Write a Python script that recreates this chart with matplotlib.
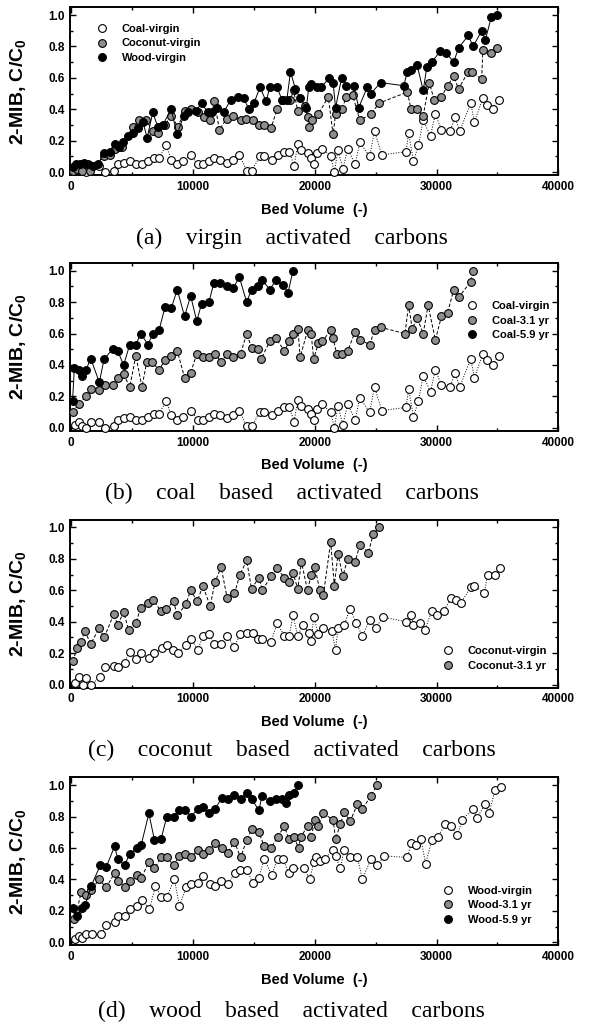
import matplotlib
matplotlib.use('Agg')
import matplotlib.pyplot as plt
from matplotlib.lines import Line2D
from matplotlib.ticker import MultipleLocator

plt.rcParams['font.family'] = ['Liberation Sans', 'DejaVu Sans']
plt.rcParams['font.weight'] = 'bold'
plt.rcParams['mathtext.fontset'] = 'custom'
plt.rcParams['mathtext.rm'] = 'Liberation Sans:bold'
plt.rcParams['mathtext.bf'] = 'Liberation Sans:bold'

# ---------------- data (bed volume, C/C0) ----------------
coal_virgin_x = [270, 600, 870, 1170, 1640, 2300, 2800, 3500, 3800, 4300,
                 4800, 5300, 5800, 6300, 6800, 7200, 7800, 8200, 8700, 9200,
                 9800, 10400, 10800, 11300, 11700, 12200, 12800, 13300, 13800, 14400,
                 14800, 15500, 15800, 16500, 17000, 17500, 17900, 18300, 18600, 18900,
                 19400, 19700, 19900, 20200, 20600, 21300, 21600, 21900, 22300, 22700,
                 23300, 23700, 24500, 24900, 25500, 27500, 27700, 28100, 28500, 28900,
                 29500, 29900, 30400, 31100, 31500, 31900, 32800, 33100, 33800, 34100,
                 34600, 35100]
coal_virgin_y = [0.02, 0.04, 0.01, 0.00, 0.04, 0.04, 0.00, 0.01, 0.05, 0.06,
                 0.07, 0.05, 0.05, 0.07, 0.09, 0.09, 0.17, 0.08, 0.05, 0.07,
                 0.11, 0.05, 0.05, 0.07, 0.09, 0.08, 0.06, 0.08, 0.11, 0.01,
                 0.01, 0.10, 0.10, 0.08, 0.11, 0.13, 0.13, 0.04, 0.18, 0.14,
                 0.12, 0.09, 0.05, 0.12, 0.15, 0.10, 0.00, 0.14, 0.02, 0.15,
                 0.05, 0.19, 0.10, 0.26, 0.11, 0.13, 0.25, 0.07, 0.17, 0.33,
                 0.23, 0.37, 0.27, 0.26, 0.35, 0.26, 0.44, 0.32, 0.47, 0.43,
                 0.40, 0.46]

# panel (a) coconut-virgin and wood-virgin
coco_virgin_a_x = [150, 500, 900, 1500, 2700, 3200, 3600, 4200, 5050, 5600,
                   6150, 6700, 7100, 7700, 8200, 8740, 9340, 9840, 10400, 10900,
                   11400, 11750, 12160, 12760, 13250, 13900, 14340, 14900, 15440, 15850,
                   16400, 16900, 17400, 17980, 18250, 18600, 19200, 19400, 19500, 19800,
                   20300, 21100, 21500, 21700, 22200, 22600, 23100, 23700, 24600, 25300,
                   27600, 27900, 28400, 28900, 29400, 29800, 30400, 30900, 31400, 31800,
                   32600, 32900, 33700, 33800, 34500, 35000]
coco_virgin_a_y = [0.01, 0.02, 0.01, 0.01, 0.10, 0.11, 0.15, 0.16, 0.29, 0.33,
                   0.33, 0.26, 0.25, 0.30, 0.36, 0.29, 0.39, 0.40, 0.38, 0.35,
                   0.33, 0.45, 0.27, 0.34, 0.36, 0.33, 0.34, 0.33, 0.30, 0.30,
                   0.28, 0.40, 0.46, 0.46, 0.52, 0.39, 0.42, 0.35, 0.29, 0.33,
                   0.37, 0.48, 0.24, 0.37, 0.40, 0.48, 0.49, 0.33, 0.37, 0.44,
                   0.51, 0.40, 0.40, 0.36, 0.57, 0.46, 0.48, 0.55, 0.61, 0.53,
                   0.64, 0.64, 0.59, 0.78, 0.76, 0.79]
wood_virgin_a_x = [140, 400, 700, 1040, 1370, 1780, 2190, 2680, 3140, 3600,
                   3880, 4230, 4640, 5050, 5460, 5870, 6230, 6690, 7100, 7510,
                   8200, 8690, 9230, 9620, 10250, 10700, 11200, 11560, 12000, 12500,
                   13100, 13700, 14150, 14600, 15000, 15500, 16000, 16300, 16900, 17300,
                   17700, 18000, 18400, 18800, 19300, 19500, 19700, 20200, 20500, 21200,
                   21500, 21700, 22200, 22600, 23200, 23600, 24300, 24600, 25400, 27300,
                   27600, 27900, 28400, 28900, 29200, 29600, 30300, 30800, 31400, 31800,
                   32600, 33000, 33700, 34000, 34500, 35000]
wood_virgin_a_y = [0.03, 0.05, 0.05, 0.06, 0.05, 0.04, 0.05, 0.12, 0.13, 0.18,
                   0.16, 0.19, 0.23, 0.25, 0.28, 0.32, 0.22, 0.38, 0.29, 0.30,
                   0.40, 0.24, 0.36, 0.38, 0.39, 0.44, 0.38, 0.38, 0.41, 0.38,
                   0.46, 0.48, 0.47, 0.40, 0.44, 0.54, 0.45, 0.54, 0.54, 0.46,
                   0.46, 0.64, 0.53, 0.47, 0.41, 0.54, 0.56, 0.54, 0.54, 0.60,
                   0.57, 0.41, 0.60, 0.55, 0.55, 0.41, 0.54, 0.50, 0.57, 0.55,
                   0.64, 0.65, 0.68, 0.52, 0.67, 0.70, 0.77, 0.76, 0.70, 0.79,
                   0.87, 0.80, 0.90, 0.84, 0.99, 1.00]

# panel (b) aged coal
coal_31_x = [100, 600, 1200, 1600, 2300, 2800, 3400, 3800, 4300, 4800,
             5300, 5800, 6200, 6600, 7200, 7700, 8200, 8700, 9300, 9800,
             10300, 10800, 11300, 11800, 12300, 12800, 13300, 13900, 14400, 14800,
             15300, 15600, 16300, 16800, 17500, 17900, 18200, 18600, 18800, 19400,
             19700, 19900, 20300, 20600, 21300, 21500, 21800, 22200, 22700, 23300,
             23700, 24500, 24900, 25400, 27400, 27700, 28000, 28400, 28900, 29300,
             29900, 30400, 30900, 31400, 31800, 32800, 33000]
coal_31_y = [0.10, 0.15, 0.20, 0.25, 0.24, 0.27, 0.27, 0.32, 0.34, 0.26,
             0.46, 0.26, 0.42, 0.42, 0.37, 0.43, 0.46, 0.49, 0.32, 0.35,
             0.47, 0.45, 0.45, 0.47, 0.42, 0.47, 0.45, 0.47, 0.60, 0.51,
             0.50, 0.44, 0.55, 0.57, 0.49, 0.55, 0.60, 0.63, 0.45, 0.62,
             0.60, 0.44, 0.54, 0.55, 0.62, 0.57, 0.47, 0.47, 0.49, 0.61,
             0.56, 0.53, 0.62, 0.64, 0.60, 0.78, 0.63, 0.70, 0.60, 0.78,
             0.56, 0.71, 0.73, 0.88, 0.83, 0.93, 1.00]
coal_59_x = [100, 250, 600, 850, 1200, 1600, 2300, 2700, 3400, 3800,
             4300, 4800, 5300, 5700, 6300, 6700, 7200, 7700, 8200, 8700,
             9300, 9800, 10300, 10700, 11300, 11700, 12200, 12800, 13300, 13800,
             14400, 14800, 15300, 15700, 16300, 16800, 17400, 17800, 18200]
coal_59_y = [0.17, 0.38, 0.37, 0.33, 0.37, 0.44, 0.29, 0.44, 0.50, 0.49,
             0.40, 0.53, 0.53, 0.60, 0.53, 0.60, 0.62, 0.77, 0.76, 0.88,
             0.71, 0.84, 0.68, 0.79, 0.80, 0.92, 0.92, 0.90, 0.89, 0.96,
             0.80, 0.88, 0.90, 0.94, 0.88, 0.94, 0.91, 0.86, 1.00]

# panel (c) coconut
coco_virgin_x = [330, 600, 960, 1230, 1640, 2380, 2730, 3470, 3800, 4370,
                 4780, 5330, 5740, 6340, 6800, 7430, 7840, 8390, 8800, 9430,
                 9840, 10400, 10800, 11300, 11750, 12300, 12800, 13400, 13850, 14400,
                 14900, 15350, 15700, 16400, 16900, 17500, 17900, 18200, 18600, 19000,
                 19500, 19700, 19900, 20300, 20700, 21400, 21700, 21900, 22400, 22900,
                 23400, 23900, 24500, 25000, 25600, 27500, 27900, 28100, 28600, 29050,
                 29600, 30000, 30600, 31200, 31600, 32000, 32800, 33100, 33900, 34200,
                 34800, 35200]
coco_virgin_y = [0.01, 0.05, 0.00, 0.04, 0.00, 0.05, 0.11, 0.12, 0.11, 0.14,
                 0.21, 0.16, 0.20, 0.17, 0.20, 0.23, 0.25, 0.22, 0.20, 0.25,
                 0.29, 0.22, 0.31, 0.32, 0.26, 0.26, 0.31, 0.24, 0.32, 0.33,
                 0.33, 0.29, 0.29, 0.27, 0.39, 0.31, 0.31, 0.44, 0.31, 0.38,
                 0.33, 0.28, 0.43, 0.32, 0.36, 0.34, 0.22, 0.36, 0.38, 0.48,
                 0.39, 0.31, 0.41, 0.36, 0.43, 0.40, 0.44, 0.38, 0.39, 0.35,
                 0.47, 0.44, 0.47, 0.55, 0.54, 0.52, 0.62, 0.63, 0.58, 0.70,
                 0.70, 0.74]
coco_31_x = [100, 500, 800, 1100, 1600, 2300, 2700, 3500, 3800, 4300,
             4700, 5300, 5700, 6300, 6700, 7350, 7800, 8400, 8700, 9400,
             9800, 10350, 10800, 11400, 11800, 12300, 12800, 13400, 13850, 14400,
             14800, 15400, 15700, 16400, 16900, 17500, 17900, 18200, 18600, 18900,
             19400, 19700, 20000, 20400, 20700, 21300, 21600, 21900, 22300, 22700,
             23300, 23700, 24400, 24800, 25300]
coco_31_y = [0.15, 0.23, 0.27, 0.34, 0.26, 0.36, 0.30, 0.45, 0.38, 0.46,
             0.35, 0.39, 0.49, 0.52, 0.54, 0.47, 0.48, 0.53, 0.44, 0.51,
             0.60, 0.53, 0.63, 0.50, 0.65, 0.75, 0.55, 0.58, 0.70, 0.79,
             0.61, 0.68, 0.60, 0.69, 0.74, 0.68, 0.65, 0.71, 0.61, 0.78,
             0.60, 0.70, 0.75, 0.60, 0.57, 0.91, 0.63, 0.83, 0.69, 0.80,
             0.78, 0.89, 0.84, 0.96, 1.00]

# panel (d) wood
wood_virgin_x = [270, 630, 900, 1230, 1720, 2460, 2870, 3550, 3830, 4370,
                 4840, 5380, 5820, 6420, 6910, 7380, 7840, 8470, 8880, 9430,
                 9840, 10380, 10850, 11390, 11830, 12300, 12840, 13440, 13880, 14430,
                 14890, 15380, 15850, 16450, 16940, 17400, 17840, 18220, 19100, 19600,
                 19900, 20100, 20400, 20800, 21500, 21700, 22100, 22400, 22900, 23500,
                 23900, 24600, 25100, 25700, 27600, 27900, 28300, 28700, 29100, 29600,
                 30100, 30700, 31200, 31700, 32100, 33000, 33300, 34000, 34300, 34800,
                 35300]
wood_virgin_y = [0.02, 0.04, 0.03, 0.05, 0.05, 0.05, 0.11, 0.13, 0.17, 0.17,
                 0.21, 0.23, 0.27, 0.21, 0.36, 0.29, 0.29, 0.40, 0.23, 0.35,
                 0.37, 0.38, 0.42, 0.37, 0.36, 0.39, 0.37, 0.44, 0.46, 0.46,
                 0.38, 0.41, 0.53, 0.43, 0.53, 0.53, 0.44, 0.47, 0.47, 0.40,
                 0.51, 0.54, 0.52, 0.53, 0.59, 0.55, 0.47, 0.59, 0.54, 0.54,
                 0.40, 0.53, 0.49, 0.55, 0.54, 0.63, 0.62, 0.66, 0.50, 0.65,
                 0.67, 0.75, 0.74, 0.68, 0.78, 0.85, 0.79, 0.88, 0.82, 0.97,
                 0.99]
wood_31_x = [190, 450, 820, 1200, 1640, 2270, 2870, 3550, 3830, 4370,
             4780, 5410, 5740, 6370, 6830, 7380, 7840, 8420, 8830, 9370,
             9840, 10380, 10850, 11340, 11830, 12350, 12840, 13400, 13900, 14400,
             14840, 15400, 15850, 16400, 16940, 17500, 17840, 18300, 18660, 18850,
             19400, 19700, 20000, 20300, 20700, 21500, 21700, 22100, 22400, 22900,
             23500, 23900, 24600, 25100]
wood_31_y = [0.15, 0.20, 0.32, 0.30, 0.33, 0.40, 0.35, 0.44, 0.39, 0.35,
             0.39, 0.43, 0.41, 0.51, 0.47, 0.54, 0.54, 0.49, 0.55, 0.56,
             0.54, 0.59, 0.56, 0.59, 0.63, 0.60, 0.57, 0.64, 0.54, 0.65,
             0.72, 0.70, 0.61, 0.60, 0.67, 0.74, 0.66, 0.67, 0.60, 0.67,
             0.74, 0.67, 0.78, 0.74, 0.82, 0.78, 0.66, 0.75, 0.83, 0.77,
             0.88, 0.85, 0.93, 1.00]
wood_59_x = [150, 500, 900, 1150, 1640, 2380, 2870, 3550, 3830, 4370,
             4780, 5380, 5740, 6370, 6830, 7380, 7840, 8420, 8830, 9370,
             9840, 10380, 10850, 11340, 11830, 12350, 12840, 13400, 13900, 14400,
             14840, 15400, 15660, 16300, 16800, 17300, 17600, 17900, 18300, 18600]
wood_59_y = [0.22, 0.17, 0.22, 0.24, 0.36, 0.49, 0.48, 0.61, 0.53, 0.49,
             0.56, 0.60, 0.62, 0.82, 0.65, 0.66, 0.80, 0.80, 0.84, 0.84,
             0.80, 0.85, 0.86, 0.82, 0.85, 0.92, 0.91, 0.94, 0.91, 0.95,
             0.91, 0.84, 0.93, 0.90, 0.91, 0.91, 0.89, 0.94, 0.95, 1.00]

GRAY = '#8e8e8e'
STYLES = {
    'open':  dict(mfc='white', ls=':', zorder=3),
    'gray':  dict(mfc=GRAY, ls=(0, (3.5, 2)), zorder=4),
    'black': dict(mfc='black', ls='-', zorder=5),
}


def plot_series(ax, x, y, kind):
    s = STYLES[kind]
    ax.plot(x, y, ls=s['ls'], color='black', lw=0.7, marker='o', ms=5.6,
            mfc=s['mfc'], mec='black', mew=0.8, zorder=s['zorder'], clip_on=False)


def set_panel(ax):
    ax.set_xlim(-100, 40000)
    ax.set_ylim(-0.02, 1.05)
    ax.xaxis.set_major_locator(MultipleLocator(10000))
    ax.xaxis.set_minor_locator(MultipleLocator(5000))
    ax.yaxis.set_major_locator(MultipleLocator(0.2))
    ax.yaxis.set_minor_locator(MultipleLocator(0.1))
    ax.set_yticks([0, 0.2, 0.4, 0.6, 0.8, 1.0])
    ax.set_yticklabels(['0.0', '0.2', '0.4', '0.6', '0.8', '1.0'])
    ax.tick_params(which='both', direction='in', top=True, right=True,
                   labelsize=8.5, width=1.0)
    ax.tick_params(which='major', length=4, pad=4)
    ax.tick_params(which='minor', length=2.5)
    for sp in ax.spines.values():
        sp.set_linewidth(1.4)
    ax.set_xlabel('Bed Volume  (-)', fontsize=10.5, fontweight='bold', labelpad=7)
    ax.set_ylabel(r'2-MIB, C/C$_\mathbf{0}$', fontsize=14, fontweight='bold')
    ax.yaxis.set_label_coords(-0.085, 0.5)


def add_legend(ax, entries, x0, y0):
    handles = [Line2D([], [], ls='none', marker='o', ms=5.6, mec='black', mew=0.8,
                      mfc=STYLES[k]['mfc']) for k, _ in entries]
    ax.legend(handles, [t for _, t in entries], loc='upper left',
              bbox_to_anchor=(x0, y0), frameon=False, borderpad=0,
              borderaxespad=0, handlelength=1.0, handletextpad=1.3,
              labelspacing=0.4, prop={'size': 8, 'weight': 'bold'})


fig = plt.figure(figsize=(5.89, 10.31), dpi=100)
L, W, H = 0.119, 0.829, 0.163

# (a)
ax = fig.add_axes([L, 0.830, W, H])
set_panel(ax)
plot_series(ax, coal_virgin_x, coal_virgin_y, 'open')
plot_series(ax, coco_virgin_a_x, coco_virgin_a_y, 'gray')
plot_series(ax, wood_virgin_a_x, wood_virgin_a_y, 'black')
add_legend(ax, [('open', 'Coal-virgin'), ('gray', 'Coconut-virgin'),
                ('black', 'Wood-virgin')], 0.053, 0.90)

# (b)
ax = fig.add_axes([L, 0.582, W, H])
set_panel(ax)
plot_series(ax, coal_virgin_x, coal_virgin_y, 'open')
plot_series(ax, coal_31_x, coal_31_y, 'gray')
plot_series(ax, coal_59_x, coal_59_y, 'black')
add_legend(ax, [('open', 'Coal-virgin'), ('gray', 'Coal-3.1 yr'),
                ('black', 'Coal-5.9 yr')], 0.811, 0.772)

# (c)
ax = fig.add_axes([L, 0.333, W, H])
set_panel(ax)
plot_series(ax, coco_virgin_x, coco_virgin_y, 'open')
plot_series(ax, coco_31_x, coco_31_y, 'gray')
add_legend(ax, [('open', 'Coconut-virgin'), ('gray', 'Coconut-3.1 yr')],
           0.762, 0.247)

# (d)
ax = fig.add_axes([L, 0.083, W, H])
set_panel(ax)
plot_series(ax, wood_virgin_x, wood_virgin_y, 'open')
plot_series(ax, wood_31_x, wood_31_y, 'gray')
plot_series(ax, wood_59_x, wood_59_y, 'black')
add_legend(ax, [('open', 'Wood-virgin'), ('gray', 'Wood-3.1 yr'),
                ('black', 'Wood-5.9 yr')], 0.762, 0.355)

captions = ['(a)    virgin    activated    carbons',
            '(b)    coal    based    activated    carbons',
            '(c)    coconut    based    activated    carbons',
            '(d)    wood    based    activated    carbons']
cap_y = [0.769, 0.521, 0.272, 0.019]
for txt, yy in zip(captions, cap_y):
    fig.text(0.495, yy, txt, ha='center', va='center', fontsize=17,
             family='Liberation Serif', fontweight='normal')

fig.savefig('out.png', dpi=100)
